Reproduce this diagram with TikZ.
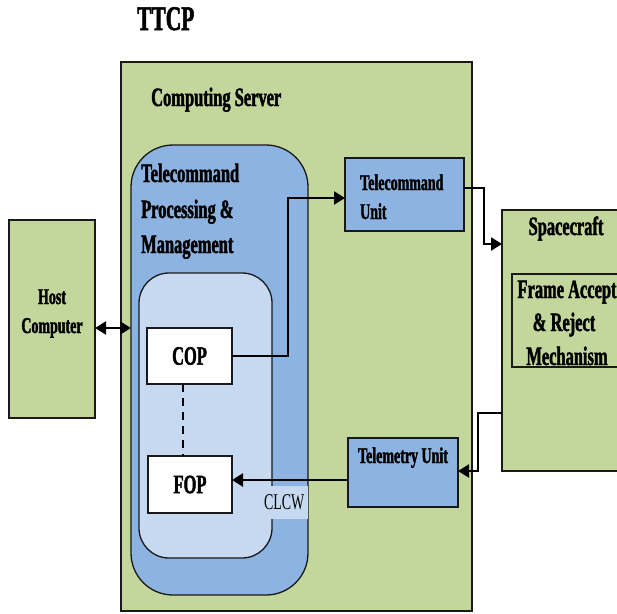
\documentclass[tikz,border=0pt]{standalone}
\usepackage{fontspec}
\setmainfont{Liberation Serif}[FakeStretch=0.62, BoldFeatures={FakeBold=1.6}]
\usetikzlibrary{arrows.meta,calc}
\definecolor{srvgreen}{HTML}{C3D69B}
\definecolor{midblue}{HTML}{8DB3E2}
\definecolor{paleblue}{HTML}{C6D9F1}
\begin{document}
\begin{tikzpicture}[x=1pt,y=-1pt,
  boxbase/.style={draw=black!90, line width=1.3pt, inner sep=0pt, outer sep=0pt, anchor=north west},
  greenbox/.style={boxbase, fill=srvgreen},
  bluebox/.style={boxbase, fill=midblue},
  whitebox/.style={boxbase, fill=white},
  ttcptxt/.style={font=\bfseries\fontsize{34.5}{40}\selectfont, inner sep=0pt},
  bigtxt/.style={font=\bfseries\fontsize{26.5}{32}\selectfont, inner sep=0pt},
  midtxt/.style={font=\bfseries\fontsize{22.5}{27}\selectfont, inner sep=0pt},
  plaintxt/.style={font=\fontsize{22.5}{27}\selectfont, inner sep=0pt},
  tipx/.tip={Triangle[length=11pt,width=13pt]},
  conn/.style={line width=2.2pt, -tipx},
  dconn/.style={line width=2.2pt, tipx-tipx},
]
\useasboundingbox (0,0) rectangle (617,613);
\clip (0,0) rectangle (617,613);
\fill[white] (0,0) rectangle (617,613);

% title
\node[ttcptxt, anchor=base west] (ttcp) at (137,30) {TTCP};

% computing server
\node[greenbox, minimum width=351pt, minimum height=549pt] (server) at (121,62) {};
\node[bigtxt, anchor=base west] (srvlbl) at (151,106) {Computing Server};

% telecommand processing & management
\node[bluebox, rounded corners=42pt, minimum width=177pt, minimum height=450pt] (tcpm) at (131,145) {};
\node[bigtxt, anchor=base west] (tcpm1) at (141,182) {Telecommand};
\node[bigtxt, anchor=base west] (tcpm2) at (141,218) {Processing \&};
\node[bigtxt, anchor=base west] (tcpm3) at (141,253) {Management};

\node[boxbase, fill=paleblue, rounded corners=30pt, minimum width=133pt, minimum height=285pt] (inner) at (139,273) {};
\node[whitebox, minimum width=85pt, minimum height=56pt, font=\bfseries\fontsize{26.5}{32}\selectfont] (cop) at (147,328) {COP};
\node[whitebox, minimum width=84pt, minimum height=57pt, font=\bfseries\fontsize{26.5}{32}\selectfont] (fop) at (148,456) {FOP};

% telecommand unit
\node[bluebox, minimum width=119pt, minimum height=73pt] (tcu) at (345,158) {};
\node[midtxt, anchor=base west] (tcu1) at (360,190) {Telecommand};
\node[midtxt, anchor=base west] (tcu2) at (360,219) {Unit};

% telemetry unit
\node[bluebox, minimum width=110pt, minimum height=69pt] (tm) at (348,438) {};
\node[midtxt, anchor=base] (tmlbl) at (403,463) {Telemetry Unit};

% host computer
\node[greenbox, minimum width=86pt, minimum height=198pt] (host) at (9,220) {};
\node[midtxt, anchor=base] (host1) at (52,304) {Host};
\node[midtxt, anchor=base] (host2) at (52,333) {Computer};

% spacecraft
\node[greenbox, minimum width=128pt, minimum height=261pt] (sc) at (502,210) {};
\node[bigtxt, anchor=base] (sclbl) at (566,235) {Spacecraft};
\node[greenbox, minimum width=108pt, minimum height=93pt] (fam) at (512,274) {};
\node[bigtxt, anchor=base] (fam1) at (567,298) {Frame Accept};
\node[bigtxt, anchor=base] (fam2) at (564,331) {\& Reject};
\node[bigtxt, anchor=base] (fam3) at (567,365) {Mechanism};

% connectors
\coordinate (dtop) at ($(cop.south west)+(36,0)$);
\draw[dashed, dash pattern=on 8pt off 6pt, line width=1.1pt] (dtop) -- (dtop |- fop.north);

\coordinate (tcuin) at ($(tcu.north west)+(0,40)$);
\draw[conn] (cop.east) -- ($(cop.east)+(56,0)$) |- (tcuin);

\coordinate (tcuout) at ($(tcu.north east)+(0,30)$);
\coordinate (scin) at ($(sc.north west)+(0,34)$);
\draw[conn] (tcuout) -- ++(20,0) |- (scin);

\coordinate (scout) at ($(sc.north west)+(0,203)$);
\coordinate (tmin) at ($(tm.north east)+(0,33)$);
\draw[conn] (scout) -- ++(-24,0) |- (tmin);

\coordinate (tmout) at ($(tm.north west)+(0,42)$);
\draw[conn] (tmout) -- (tmout -| fop.east);

\coordinate (hostio) at ($(host.north east)+(0,108)$);
\draw[dconn] (hostio) -- (hostio -| tcpm.west);

% CLCW label
\node[plaintxt, fill=paleblue, minimum width=48pt, minimum height=33pt, anchor=north west] (clcw) at (260,486) {CLCW};
\end{tikzpicture}
\end{document}
